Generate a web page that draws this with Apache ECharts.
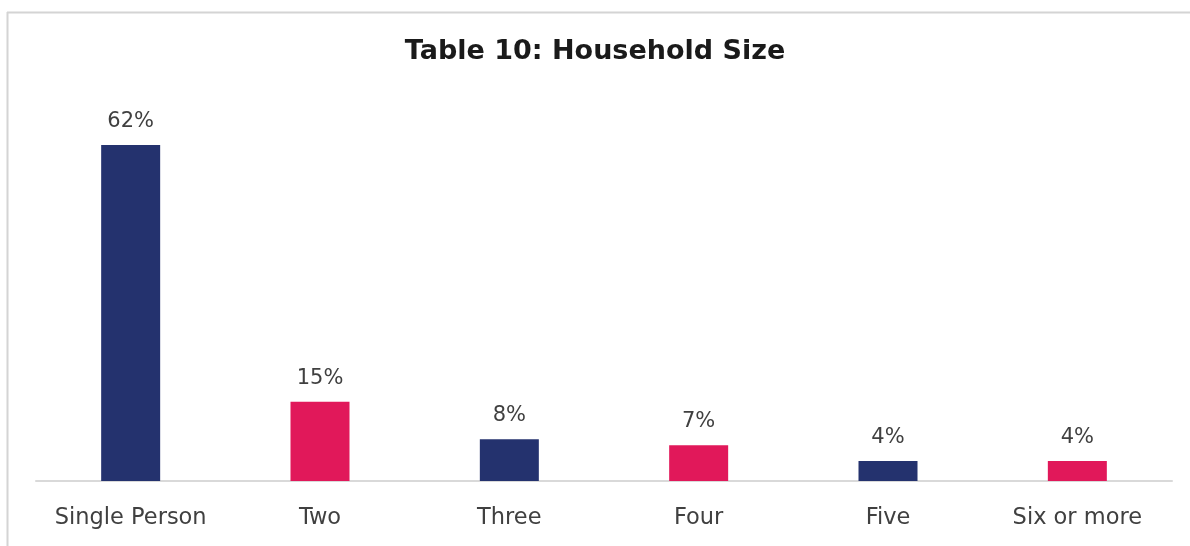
<!DOCTYPE html>
<html>
<head>
<meta charset="utf-8">
<script src="https://cdn.jsdelivr.net/npm/echarts@6/dist/echarts.min.js"></script>
<style>
html,body{margin:0;padding:0;background:#fff;}
#chart{width:1190px;height:546px;}
</style>
</head>
<body>
<div id="chart"></div>
<script>
const titleText = 'Table 10: Household Size';
const categories = ['Single Person', 'Two', 'Three', 'Four', 'Five', 'Six or more'];
const values = [62, 14.6, 7.7, 6.6, 3.7, 3.7];
const barColors = ['#24326e', '#e1185a', '#24326e', '#e1185a', '#24326e', '#e1185a'];

const chart = echarts.init(document.getElementById('chart'));
chart.setOption({
  animation: false,
  backgroundColor: '#fff',
  title: {
    text: titleText,
    left: 'center',
    top: 33,
    textStyle: { fontFamily: 'DejaVu Sans', fontWeight: 'bold', fontSize: 27, color: '#1a1a1a' }
  },
  graphic: [
    { type: 'line', shape: { x1: 7.5, y1: 12, x2: 7.5, y2: 546 }, style: { stroke: '#d4d4d4', lineWidth: 2 } },
    { type: 'line', shape: { x1: 7, y1: 12.5, x2: 1190, y2: 12.5 }, style: { stroke: '#d4d4d4', lineWidth: 2 } }
  ],
  grid: { left: 36, right: 18, top: 101.6, bottom: 65 },
  xAxis: {
    type: 'category',
    data: categories,
    axisLine: { lineStyle: { color: '#d9d9d9', width: 2 } },
    axisTick: { show: false },
    axisLabel: { interval: 0, margin: 26, fontFamily: 'DejaVu Sans', fontSize: 22.5, color: '#404040' }
  },
  yAxis: {
    type: 'value', min: 0, max: 70,
    show: false, splitLine: { show: false }
  },
  series: [{
    type: 'bar',
    barWidth: 59,
    data: values.map((v, i) => ({ value: v, itemStyle: { color: barColors[i] } })),
    label: {
      show: true, position: 'top', distance: 13,
      fontFamily: 'DejaVu Sans', fontSize: 21, color: '#404040',
      formatter: p => Math.round(p.value) + '%'
    }
  }]
});
</script>
</body>
</html>
